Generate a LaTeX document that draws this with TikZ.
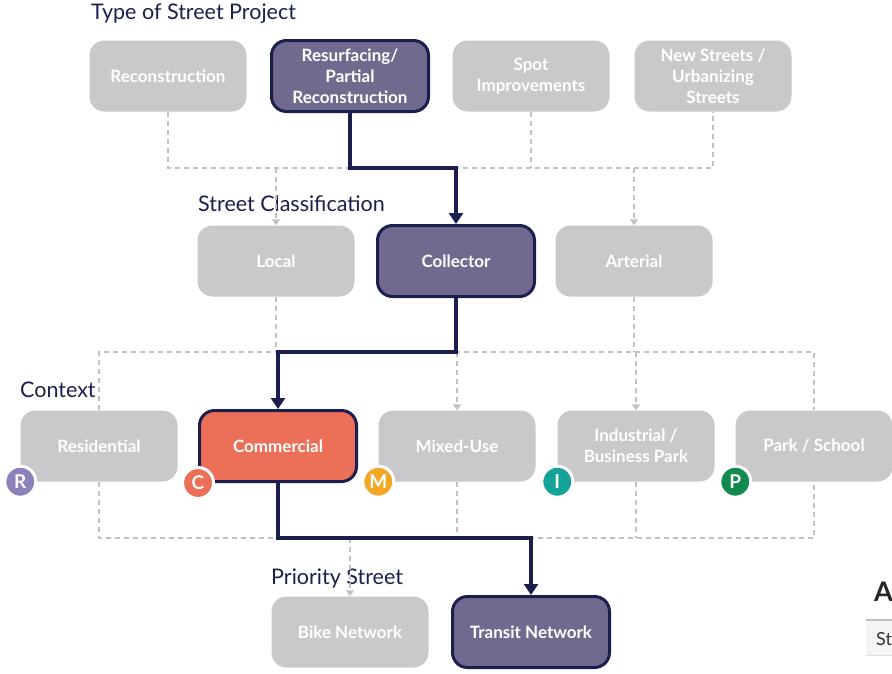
\documentclass[tikz,border=0pt]{standalone}
\usepackage{fontspec}
\setmainfont{Lato}
\usetikzlibrary{arrows.meta}

\definecolor{boxgray}{HTML}{C9C9CB}
\definecolor{dashgray}{HTML}{C2C2C4}
\definecolor{hlpurple}{HTML}{706B8E}
\definecolor{navy}{HTML}{1C1F4E}
\definecolor{orange}{HTML}{EC7057}
\definecolor{colR}{HTML}{8E80BB}
\definecolor{colM}{HTML}{F2A825}
\definecolor{colI}{HTML}{14A39A}
\definecolor{colP}{HTML}{118A4E}

\tikzset{
	stepbox/.style={rectangle, rounded corners=15pt, fill=boxgray, text=white,
		minimum width=157pt, minimum height=71pt, align=center, inner sep=2pt,
		font=\fontsize{17}{21}\selectfont\bfseries},
	chosen/.style={stepbox, fill=hlpurple, draw=navy, line width=3pt},
	heading/.style={anchor=west, text=navy, inner sep=0pt, font=\fontsize{21.5}{25}\selectfont},
	dashline/.style={draw=dashgray, line width=1.4pt, dash pattern=on 5pt off 4pt},
	dasharrow/.style={dashline, -{Triangle[width=8pt,length=6pt]}},
	pathline/.style={draw=navy, line width=3.5pt, -{Triangle[width=14pt,length=11pt]}},
	badge/.style={circle, minimum size=31pt, inner sep=0pt, draw=white, line width=3pt,
		text=white, font=\fontsize{19}{19}\selectfont\bfseries}
}

\begin{document}
\begin{tikzpicture}[x=1pt, y=-1pt]
	\useasboundingbox (0,0) rectangle (892,673);
	
	\coordinate (busA) at (0,168);
	\coordinate (busB) at (0,352);
	\coordinate (busC) at (0,538);
	
	% headings
	\node[heading] (hProject) at (91,14) {Type of Street Project};
	\node[heading] (hClass) at (198,204) {Street Classification};
	\node[heading] (hContext) at (20,390) {Context};
	\node[heading] (hPriority) at (271,578) {Priority Street};
	
	% boxes
	\node[stepbox] (recon) at (168,76) {Reconstruction};
	\node[chosen] (resurf) at (350,76) {Resurfacing/\\Partial\\Reconstruction};
	\node[stepbox] (spot) at (531,76) {Spot\\Improvements};
	\node[stepbox] (newst) at (713,76) {New Streets /\\Urbanizing\\Streets};
	
	\node[stepbox] (local) at (276,261) {Local};
	\node[chosen] (collector) at (456,261) {Collector};
	\node[stepbox] (arterial) at (634,261) {Arterial};
	
	\node[stepbox] (resid) at (99,446) {Residential};
	\node[chosen, fill=orange] (commercial) at (278,446) {Commercial};
	\node[stepbox] (mixed) at (457,446) {Mixed-Use};
	\node[stepbox] (industrial) at (636,446) {Industrial /\\Business Park};
	\node[stepbox] (park) at (814,446) {Park / School};
	
	\node[stepbox] (bike) at (350,632) {Bike Network};
	\node[chosen] (transit) at (531,632) {Transit Network};
	
	% dashed links
	\draw[dashline]
	(recon.south) |- (newst.south |- busA) -- (newst.south)
	(spot.south) -- (spot.south |- busA);
	\draw[dasharrow] (local.north |- busA) -- (local.north);
	\draw[dasharrow] (arterial.north |- busA) -- (arterial.north);
	
	\draw[dashline]
	(resid.north) |- (park.north |- busB) -- (park.north)
	(local.south) -- (local.south |- busB)
	(arterial.south) -- (arterial.south |- busB);
	\draw[dasharrow] (mixed.north |- busB) -- (mixed.north);
	\draw[dasharrow] (industrial.north |- busB) -- (industrial.north);
	
	\draw[dashline]
	(resid.south) |- (park.south |- busC) -- (park.south)
	(mixed.south) -- (mixed.south |- busC)
	(industrial.south) -- (industrial.south |- busC);
	\draw[dasharrow] (bike.north |- busC) -- (bike.north);
	
	% chosen path
	\draw[pathline] (resurf.south) -- (resurf.south |- busA) -| (collector.north);
	\draw[pathline] (collector.south) -- (collector.south |- busB) -| (commercial.north);
	\draw[pathline] (commercial.south) -- (commercial.south |- busC) -| (transit.north);
	
	% context badges
	\node[badge, fill=colR] (bR) at (resid.south west) {R};
	\node[badge, fill=orange] (bC) at (commercial.south west) {C};
	\node[badge, fill=colM] (bM) at (mixed.south west) {M};
	\node[badge, fill=colI] (bI) at (industrial.south west) {I};
	\node[badge, fill=colP] (bP) at (park.south west) {P};
	
	% cut-off table at the edge
	\node[anchor=west, inner sep=0pt, text=black!85, font=\fontsize{27}{27}\selectfont\bfseries] (tabA) at (874,592) {A};
	\fill[black!4] (866,620) rectangle (892,655);
	\draw[black!25, line width=1.5pt] (866,620) -- (892,620);
	\draw[black!12, line width=1pt] (866,655) -- (892,655);
	\node[anchor=west, inner sep=0pt, text=black!80, font=\fontsize{18}{18}\selectfont] (tabSt) at (876,639) {St};
	
\end{tikzpicture}
\end{document}
